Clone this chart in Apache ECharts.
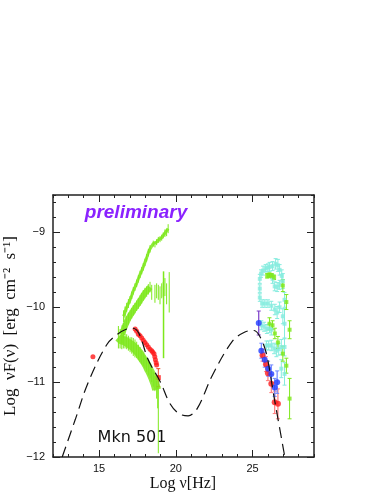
<!doctype html>
<html>
<head>
<meta charset="utf-8">
<title>Mkn 501</title>
<style>
    html, body { margin: 0; padding: 0; background: #fff; }
    #chart { width: 382px; height: 494px; }
</style>
</head>
<body>
<div id="chart"></div>
<script src="https://cdn.jsdelivr.net/npm/echarts@6/dist/echarts.min.js"></script>
<script>
// axis ticks
var xMajor = [15, 20, 25];
var yMajor = [-12, -11, -10, -9];

// SSC model (dashed)
var modelX = [12.6, 13.45, 14.3, 15.5, 16.2, 16.8, 17.2, 17.6, 18.2, 19.0, 19.6, 20.2, 20.8, 21.4, 22.4, 23.7, 24.5, 25.1, 25.5, 25.9, 26.4, 27.1];
var modelY = [-12.0, -11.5, -11.0, -10.5, -10.36, -10.29, -10.28, -10.35, -10.7, -11.0, -11.28, -11.42, -11.45, -11.35, -10.9, -10.45, -10.33, -10.31, -10.4, -10.62, -11.2, -12.0];

// X-ray green spectra (three states)
var xHighX = [16.6, 16.69, 16.8, 16.91, 17.02, 17.13, 17.23, 17.34, 17.45, 17.56, 17.67, 17.78, 17.88, 17.99, 18.1, 18.21, 18.32, 18.53, 18.64, 18.75, 18.86, 18.97, 19.08, 19.18, 19.29, 19.4, 19.5];
var xHighY = [-10.12, -10.07, -10.0, -9.95, -9.9, -9.84, -9.78, -9.73, -9.68, -9.62, -9.56, -9.51, -9.46, -9.4, -9.34, -9.27, -9.22, -9.15, -9.16, -9.13, -9.1, -9.09, -9.07, -9.04, -9.01, -9.0, -8.95];
var xHighE = [0.08, 0.08, 0.06, 0.06, 0.05, 0.05, 0.05, 0.05, 0.05, 0.05, 0.05, 0.05, 0.05, 0.05, 0.05, 0.05, 0.05, 0.04, 0.04, 0.04, 0.04, 0.04, 0.04, 0.04, 0.05, 0.05, 0.06];

var xMidX = [16.5, 16.58, 16.69, 16.8, 16.91, 17.02, 17.13, 17.23, 17.34, 17.45, 17.56, 17.67, 17.78, 17.88, 17.99, 18.1, 18.21, 18.32, 18.43, 18.64, 18.75, 18.86, 18.97, 19.08, 19.18, 19.29, 19.4, 19.57];
var xMidY = [-10.36, -10.31, -10.25, -10.2, -10.15, -10.11, -10.08, -10.04, -10.01, -9.98, -9.95, -9.91, -9.88, -9.84, -9.81, -9.79, -9.76, -9.73, -9.8, -9.82, -9.78, -9.8, -9.84, -9.78, -9.76, -9.73, -9.82, -9.8];
var xMidE = [0.12, 0.1, 0.09, 0.08, 0.08, 0.07, 0.07, 0.07, 0.07, 0.07, 0.07, 0.07, 0.07, 0.07, 0.07, 0.07, 0.07, 0.07, 0.1, 0.12, 0.1, 0.1, 0.12, 0.1, 0.1, 0.12, 0.14, 0.27];

var xLowX = [16.26, 16.37, 16.48, 16.58, 16.69, 16.8, 16.91, 17.02, 17.13, 17.23, 17.34, 17.45, 17.56, 17.67, 17.78, 17.88, 17.99, 18.1, 18.21, 18.32, 18.43, 18.53, 18.64, 18.75, 18.82, 18.86];
var xLowY = [-10.4, -10.42, -10.44, -10.44, -10.45, -10.46, -10.48, -10.5, -10.51, -10.53, -10.55, -10.57, -10.6, -10.63, -10.67, -10.7, -10.73, -10.77, -10.82, -10.86, -10.91, -10.96, -11.02, -11.1, -11.2, -11.5];
var xLowE = [0.15, 0.13, 0.12, 0.11, 0.1, 0.1, 0.1, 0.1, 0.11, 0.12, 0.12, 0.11, 0.1, 0.1, 0.09, 0.09, 0.09, 0.09, 0.09, 0.09, 0.09, 0.1, 0.1, 0.12, 0.15, 0.45];
var xSpikeX = [19.2];
var xSpikeY = [-10.1];
var xSpikeE = [0.58];

// X-ray red
var xRedX = [17.35, 17.45, 17.56, 17.67, 17.78, 17.88, 17.99, 18.1, 18.21, 18.32, 18.43, 18.5, 18.58, 18.63, 18.67, 18.72, 18.75];
var xRedY = [-10.29, -10.32, -10.36, -10.38, -10.41, -10.44, -10.47, -10.5, -10.53, -10.56, -10.58, -10.6, -10.62, -10.66, -10.7, -10.74, -10.77];
var optX = [14.6];
var optY = [-10.66];
var hardX = [18.86];
var hardY = [-10.94];
var hardE = [0.12];

// TeV cyan
var tevCyanX = [25.47, 25.55, 25.68, 25.85, 26.0, 26.11, 26.3, 26.5, 26.65, 26.76, 26.9, 26.97, 26.76, 26.6, 26.44, 26.3, 25.47, 25.47, 25.62, 25.8, 26.0, 26.22, 26.45, 26.6, 26.76, 26.97, 27.08, 25.57, 25.75, 25.93, 26.1, 26.22, 25.9, 26.05, 26.22, 26.4, 26.55, 26.7, 26.87, 27.08, 26.87, 27.08, 27.08];
var tevCyanY = [-9.62, -9.55, -9.51, -9.48, -9.47, -9.46, -9.45, -9.42, -9.44, -9.5, -9.58, -9.65, -9.7, -9.73, -9.72, -9.62, -9.75, -9.87, -9.95, -9.95, -9.95, -9.98, -10.03, -10.07, -10.0, -10.12, -9.9, -10.24, -10.26, -10.29, -10.28, -10.3, -10.51, -10.51, -10.51, -10.55, -10.58, -10.56, -10.53, -10.53, -10.82, -10.89, -10.22];
var tevCyanE = [0.06, 0.05, 0.06, 0.05, 0.05, 0.06, 0.06, 0.07, 0.08, 0.07, 0.08, 0.1, 0.06, 0.06, 0.06, 0.06, 0.05, 0.05, 0.05, 0.05, 0.05, 0.06, 0.07, 0.08, 0.07, 0.1, 0.1, 0.06, 0.06, 0.06, 0.06, 0.07, 0.06, 0.06, 0.07, 0.07, 0.08, 0.08, 0.1, 0.12, 0.12, 0.15, 0.2];

// TeV green
var tevGreenX = [25.95, 26.1, 26.25, 26.4, 26.97, 27.2, 26.1, 26.3, 26.45, 26.65, 26.97, 27.2, 27.41, 27.41];
var tevGreenY = [-9.58, -9.57, -9.58, -9.6, -9.71, -9.93, -10.22, -10.24, -10.35, -10.47, -10.62, -10.78, -10.3, -11.22];
var tevGreenE = [0.03, 0.03, 0.03, 0.03, 0.08, 0.1, 0.08, 0.06, 0.07, 0.08, 0.1, 0.1, 0.12, 0.27];

// TeV blue and red
var tevBlueX = [25.4, 25.57, 25.79, 26.01, 26.22, 26.44, 26.6];
var tevBlueY = [-10.21, -10.58, -10.7, -10.82, -10.89, -11.07, -11.0];
var tevBlueE = [0.16, 0.1, 0.1, 0.1, 0.12, 0.12, 0.15];
var tevRedX = [25.65, 25.87, 26.0, 26.22, 26.44, 26.65];
var tevRedY = [-10.64, -10.76, -10.88, -11.02, -11.27, -11.29];
var tevRedE = [0.08, 0.1, 0.1, 0.12, 0.15, 0.2];

function pairs(xs, ys) {
    return xs.map(function (x, i) { return [x, ys[i]]; });
}
function bars(xs, ys, es) {
    return xs.map(function (x, i) { return [x, ys[i] - es[i], ys[i] + es[i]]; });
}
function errRender(color, width, cap) {
    return function (params, api) {
        var x = api.value(0);
        var lo = api.coord([x, api.value(1)]);
        var hi = api.coord([x, api.value(2)]);
        var kids = [{ type: 'line', shape: { x1: lo[0], y1: lo[1], x2: hi[0], y2: hi[1] }, style: { stroke: color, lineWidth: width } }];
        if (cap) {
            kids.push({ type: 'line', shape: { x1: lo[0] - cap, y1: lo[1], x2: lo[0] + cap, y2: lo[1] }, style: { stroke: color, lineWidth: 1 } });
            kids.push({ type: 'line', shape: { x1: hi[0] - cap, y1: hi[1], x2: hi[0] + cap, y2: hi[1] }, style: { stroke: color, lineWidth: 1 } });
        }
        return { type: 'group', children: kids };
    };
}
function errSeries(data, color, width, cap) {
    return { type: 'custom', data: data, encode: { x: 0, y: [1, 2] }, clip: true, renderItem: errRender(color, width, cap), silent: true };
}
function dots(data, color, symbol, size) {
    return { type: 'scatter', data: data, symbol: symbol, symbolSize: size, itemStyle: { color: color }, silent: true };
}
function band(data, color, width) {
    return { type: 'line', data: data, showSymbol: false, clip: true, lineStyle: { color: color, width: width, opacity: 0.85 }, silent: true };
}

var frame = { lineStyle: { color: '#222', width: 1.5 } };
function xAx(pos, major, labels) {
    var a = { type: 'value', min: 12, max: 29, position: pos, splitLine: { show: false },
        axisLine: major ? { show: false } : frame,
        axisTick: { inside: true, length: major ? 7 : 3, lineStyle: { color: '#222' } },
        axisLabel: { show: false } };
    if (major) {
        a.axisTick.customValues = xMajor;
        a.axisLabel = { show: labels, customValues: xMajor, margin: 6, color: '#111', fontSize: 11, fontFamily: 'Liberation Sans' };
    } else {
        a.interval = 1;
    }
    return a;
}
function yAx(pos, major, labels) {
    var a = { type: 'value', min: -12, max: -8.5, position: pos, splitLine: { show: false },
        axisLine: major ? { show: false } : frame,
        axisTick: { inside: true, length: major ? 7 : 3, lineStyle: { color: '#222' } },
        axisLabel: { show: false } };
    if (major) {
        a.axisTick.customValues = yMajor;
        a.axisLabel = { show: labels, customValues: yMajor, margin: 8, color: '#111', fontSize: 11, fontFamily: 'Liberation Sans',
            formatter: function (v) { return String(v).replace('-', '\u2212'); } };
    } else {
        a.interval = 0.2;
    }
    return a;
}

var chart = echarts.init(document.getElementById('chart'));
var green = '#7ee81c';
chart.setOption({
    animation: false,
    grid: { left: 53, right: 68, top: 195, bottom: 37 },
    xAxis: [xAx('bottom', false), xAx('bottom', true, true), xAx('top', false), xAx('top', true, false)],
    yAxis: [yAx('left', false), yAx('left', true, true), yAx('right', false), yAx('right', true, false)],
    series: [
        band(pairs(xHighX, xHighY), green, 3),
        band(pairs(xMidX.slice(0, 18), xMidY.slice(0, 18)), green, 6),
        band(pairs(xLowX.slice(0, 24), xLowY.slice(0, 24)), green, 9),
        errSeries(bars(xHighX, xHighY, xHighE), green, 1, 0),
        errSeries(bars(xMidX, xMidY, xMidE), green, 1, 0),
        errSeries(bars(xLowX, xLowY, xLowE), green, 1, 0),
        errSeries(bars(xSpikeX, xSpikeY, xSpikeE), green, 1.5, 0),
        errSeries(bars(tevCyanX, tevCyanY, tevCyanE), '#86ecdf', 1, 2),
        dots(pairs(tevCyanX, tevCyanY), '#86ecdf', 'rect', 4),
        errSeries(bars(tevGreenX, tevGreenY, tevGreenE), green, 1, 2),
        dots(pairs(tevGreenX, tevGreenY), green, 'rect', 4),
        {
            type: 'line', data: pairs(modelX, modelY), smooth: 0.35, showSymbol: false, clip: true,
            lineStyle: { color: '#111', width: 1.2, type: [11, 6] }, silent: true
        },
        errSeries(bars(tevRedX, tevRedY, tevRedE), '#ff7a7a', 1.2, 2),
        dots(pairs(tevRedX, tevRedY), '#ff1e1e', 'circle', 6),
        errSeries(bars(tevBlueX.slice(1), tevBlueY.slice(1), tevBlueE.slice(1)), '#7088ff', 1.2, 2),
        errSeries(bars(tevBlueX.slice(0, 1), tevBlueY.slice(0, 1), tevBlueE.slice(0, 1)), '#7a3cc8', 1.2, 2),
        dots(pairs(tevBlueX, tevBlueY), '#1f3bff', 'circle', 6),
        dots(pairs(xRedX, xRedY), '#ff1a1a', 'circle', 5),
        dots(pairs(optX, optY), '#ff1a1a', 'circle', 5),
        errSeries(bars(hardX, hardY, hardE), '#e8502a', 1, 2),
        dots(pairs(hardX, hardY), '#ff1a1a', 'rect', 5)
    ],
    graphic: [
        { type: 'text', x: 136, y: 213, style: { text: 'preliminary', font: 'italic bold 19px "Liberation Sans"', fill: '#8a22ff', textAlign: 'center', textVerticalAlign: 'middle' } },
        { type: 'text', x: 132, y: 438, style: { text: 'Mkn 501', font: '16px "DejaVu Sans"', fill: '#111', textAlign: 'center', textVerticalAlign: 'middle' } },
        { type: 'text', x: 183, y: 484, style: { text: 'Log \u03bd[Hz]', font: '16px "Liberation Serif"', fill: '#111', textAlign: 'center', textVerticalAlign: 'middle' } },
        { type: 'text', x: 11, y: 326, rotation: Math.PI / 2, style: { text: 'Log  \u03bdF(\u03bd)  [erg  cm\u207b\u00b2  s\u207b\u00b9]', font: '17px "Liberation Serif"', fill: '#111', textAlign: 'center', textVerticalAlign: 'middle' } }
    ]
});
</script>
</body>
</html>
